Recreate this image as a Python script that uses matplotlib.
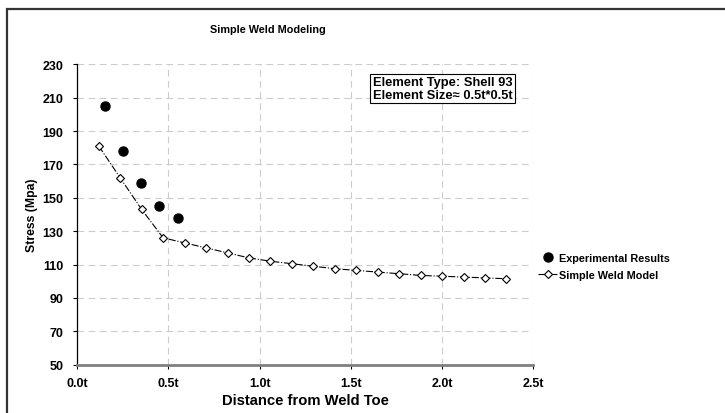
import matplotlib
matplotlib.use("Agg")
import matplotlib.pyplot as plt
from matplotlib.patches import Rectangle

# experimental measurements
exp_x = [0.15, 0.25, 0.35, 0.45, 0.55]
exp_y = [205, 178, 159, 145, 138]

# simple weld FE model
model_x = [0.118, 0.235, 0.353, 0.471, 0.588, 0.706, 0.824, 0.941, 1.059, 1.176,
           1.294, 1.412, 1.529, 1.647, 1.765, 1.882, 2.0, 2.118, 2.235, 2.353]
model_y = [181, 162, 143, 126, 123, 120, 117, 114, 112, 110.5,
           109, 107.5, 106.5, 105.5, 104.5, 103.5, 103, 102.5, 102, 101.5]

x_ticks = [0.0, 0.5, 1.0, 1.5, 2.0, 2.5]
x_tick_labels = ["0.0t", "0.5t", "1.0t", "1.5t", "2.0t", "2.5t"]
y_ticks = [50, 70, 90, 110, 130, 150, 170, 190, 210, 230]

plt.rcParams["font.family"] = ["Liberation Sans", "DejaVu Sans"]
plt.rcParams["font.weight"] = "bold"

fig = plt.figure(figsize=(7.25, 4.14), dpi=100)
ax = fig.add_axes([0.1066, 0.1167, 0.629, 0.7256])

# outer chart border (runs off the right and bottom edges)
fig.patches.append(Rectangle((7 / 725, -0.05), 1.1, 1 - 10 / 414 + 0.05,
                             transform=fig.transFigure, fill=False,
                             edgecolor="#333333", linewidth=1.6, clip_on=False))

ax.plot(exp_x, exp_y, linestyle="none", marker="o", markersize=6.5,
        color="black", label="Experimental Results", zorder=3)
ax.plot(model_x, model_y, linestyle="-.", linewidth=0.8, color="black",
        marker="D", markersize=4.5, markerfacecolor="white",
        markeredgecolor="black", markeredgewidth=0.8,
        label="Simple Weld Model", zorder=3)

ax.set_xlim(0, 2.5)
ax.set_ylim(50, 230)
ax.set_xticks(x_ticks)
ax.set_xticklabels(x_tick_labels)
ax.set_yticks(y_ticks)
ax.tick_params(labelsize=9, length=3, width=0.8)
ax.tick_params(axis="y", pad=7)
ax.tick_params(axis="x", pad=6)
for lab in ax.get_xticklabels() + ax.get_yticklabels():
    lab.set_fontweight("bold")

ax.grid(True, color="#cccccc", linestyle=(0, (6, 4)), linewidth=0.8)
ax.set_axisbelow(True)
for side in ["top", "right"]:
    ax.spines[side].set_visible(False)
ax.spines["left"].set_color("black")
ax.spines["left"].set_linewidth(0.9)
ax.spines["bottom"].set_color("#808080")
ax.spines["bottom"].set_linewidth(2)

ax.set_xlabel("Distance from Weld Toe", fontsize=10.6, fontweight="bold", labelpad=3)
ax.set_ylabel("Stress (Mpa)", fontsize=8.8, fontweight="bold", labelpad=3)
fig.text(268 / 725, 1 - 30 / 414, "Simple Weld Modeling", ha="center",
         va="center", fontsize=7.8, fontweight="bold")

ax.text(0.648, 0.919, "Element Type: Shell 93\nElement Size\u2248 0.5t*0.5t",
        transform=ax.transAxes, fontsize=9.3, fontweight="bold", va="center",
        ha="left", linespacing=1.05,
        bbox=dict(boxstyle="square,pad=0.2", facecolor="white",
                  edgecolor="black", linewidth=0.8))

leg = fig.legend(loc="upper left", bbox_to_anchor=(528 / 725, 1 - 244 / 414),
                 fontsize=7.8, frameon=False, borderpad=0.4, handlelength=1.8,
                 handletextpad=0.2, labelspacing=0.65)
for t in leg.get_texts():
    t.set_fontweight("bold")

fig.savefig("out.png", dpi=100)
